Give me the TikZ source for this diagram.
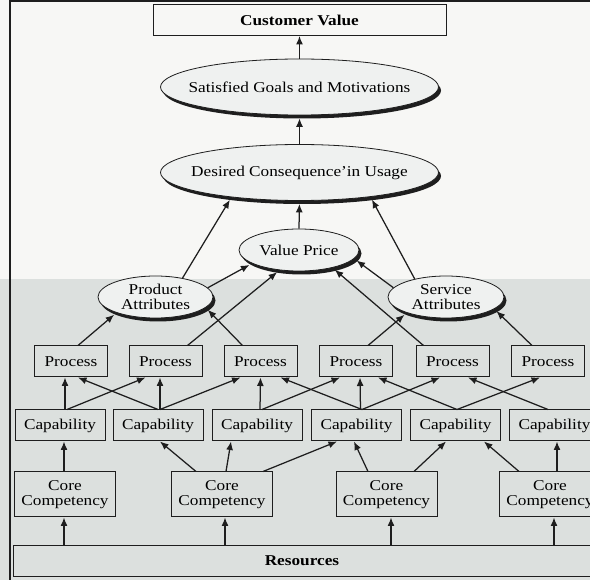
\documentclass[tikz,border=0pt]{standalone}
\usepackage{fontspec}
\setmainfont{Liberation Serif}[FakeStretch=1.15]
\usetikzlibrary{shapes.geometric,shadows,arrows.meta}
\definecolor{topbg}{RGB}{247,247,245}
\definecolor{lowbg}{RGB}{220,224,222}
\definecolor{ovalfill}{RGB}{239,241,240}
\definecolor{ink}{RGB}{30,30,30}
\tikzset{
	box/.style={draw=ink,line width=1pt,inner sep=0pt,minimum height=31pt},
	procbox/.style={box,minimum width=73pt},
	capbox/.style={box,minimum width=90pt},
	corebox/.style={box,minimum width=101pt,minimum height=45pt,align=center},
	oval/.style={ellipse,draw=ink,line width=0.8pt,fill=ovalfill,inner sep=0pt,inner xsep=-20pt,align=center,
		drop shadow={shadow xshift=2.5pt,shadow yshift=-3.5pt,opacity=1,fill=ink}},
	link/.style={-{Latex[length=8.5pt,width=7pt]},line width=1.25pt,draw=ink},
	undershadow/.style={shorten >=3pt}
}
\begin{document}
\begin{tikzpicture}[x=1pt,y=-1pt,font=\fontsize{15}{15.5}\selectfont]
	\clip (0,0) rectangle (590,580);
	\fill [topbg] (0,0) rectangle (590,279);
	\fill [lowbg] (0,279) rectangle (590,580);
	\draw [ink,line width=1.2pt] (590,1)--(10,1)--(10,580);
	\node [box,minimum width=293pt,font=\fontsize{15}{15.5}\selectfont\bfseries] (cv) at (299.5,20) {Customer Value};
	\node [oval,minimum width=278pt,minimum height=56pt] (goals) at (299.5,87) {Satisfied Goals and Motivations};
	\node [oval,minimum width=278pt,minimum height=56pt] (usage) at (299.5,172.5) {Desired Consequence'in Usage};
	\node [oval,minimum width=120pt,minimum height=42pt] (price) at (299,250) {Value Price};
	\node [oval,minimum width=115pt,minimum height=42pt] (product) at (155.5,297) {Product\\Attributes};
	\node [oval,minimum width=116pt,minimum height=42pt] (service) at (446,297) {Service\\Attributes};
	\node [procbox] (proc1) at (71,361.5) {Process};
	\node [procbox] (proc2) at (165.5,361.5) {Process};
	\node [procbox] (proc3) at (260.5,361.5) {Process};
	\node [procbox] (proc4) at (356,361.5) {Process};
	\node [procbox] (proc5) at (452.5,361.5) {Process};
	\node [procbox] (proc6) at (548,361.5) {Process};
	\node [capbox] (cap1) at (60,425.5) {Capability};
	\node [capbox] (cap2) at (158,425.5) {Capability};
	\node [capbox] (cap3) at (257,425.5) {Capability};
	\node [capbox] (cap4) at (356.5,425.5) {Capability};
	\node [capbox] (cap5) at (455.5,425.5) {Capability};
	\node [capbox] (cap6) at (554.5,425.5) {Capability};
	\node [corebox] (core1) at (65,494.5) {Core\\Competency};
	\node [corebox] (core2) at (222,494.5) {Core\\Competency};
	\node [corebox] (core3) at (386.5,494.5) {Core\\Competency};
	\node [corebox] (core4) at (550,494.5) {Core\\Competency};
	\node [box,minimum width=578pt,font=\fontsize{15}{15.5}\selectfont\bfseries] (res) at (302,561) {Resources};
	\draw [link] (goals.north) -- (cv.south);
	\draw [link,undershadow] (usage.north) -- (goals.south);
	\draw [link,undershadow] (price.north) -- (usage.south);
	\draw [link,undershadow] (product.35) -- (usage.200);
	\draw [link,undershadow] (service.150) -- (usage.341);
	\draw [link,undershadow] (product.10) -- (price.196);
	\draw [link,undershadow] ([xshift=22pt]proc2.north) -- (price.226);
	\draw [link,undershadow] ([xshift=-29pt]proc5.north) -- (price.332);
	\draw [link,undershadow] (service.170) -- (price.351);
	\draw [link,undershadow] ([xshift=7pt]proc1.north) -- (product.202);
	\draw [link,undershadow] ([xshift=-18pt]proc3.north) -- (product.348);
	\draw [link,undershadow] ([xshift=12pt]proc4.north) -- (service.202);
	\draw [link,undershadow] ([xshift=-16pt]proc6.north) -- (service.346);
	\draw [link] ([xshift=5pt]cap1.north) -- ([xshift=-6pt]proc1.south);
	\draw [link] ([xshift=7pt]cap1.north) -- ([xshift=-20pt]proc2.south);
	\draw [link] (cap2.north) -- ([xshift=7pt]proc1.south);
	\draw [link] ([xshift=2pt]cap2.north) -- ([xshift=-5.5pt]proc2.south);
	\draw [link] ([xshift=2pt]cap2.north) -- ([xshift=-20pt]proc3.south);
	\draw [link] ([xshift=3pt]cap3.north) -- (proc3.south);
	\draw [link] ([xshift=5pt]cap3.north) -- ([xshift=-16pt]proc4.south);
	\draw [link] ([xshift=5.5pt]cap4.north) -- ([xshift=20pt]proc3.south);
	\draw [link] ([xshift=4pt]cap4.north) -- ([xshift=4pt]proc4.south);
	\draw [link] ([xshift=5.5pt]cap4.north) -- ([xshift=-12.5pt]proc5.south);
	\draw [link] ([xshift=1.5pt]cap5.north) -- ([xshift=22pt]proc4.south);
	\draw [link] ([xshift=1.5pt]cap5.north) -- ([xshift=-8pt]proc6.south);
	\draw [link] ([xshift=-6.5pt]cap6.north) -- ([xshift=15.5pt]proc5.south);
	\draw [link] ([xshift=-1pt]core1.north) -- ([xshift=4pt]cap1.south);
	\draw [link] ([xshift=-26pt]core2.north) -- ([xshift=2pt]cap2.south);
	\draw [link] ([xshift=4pt]core2.north) -- ([xshift=-26pt]cap3.south);
	\draw [link] ([xshift=41pt]core2.north) -- ([xshift=-19.5pt]cap4.south);
	\draw [link] ([xshift=-18.5pt]core3.north) -- ([xshift=-2.5pt]cap4.south);
	\draw [link] ([xshift=27.5pt]core3.north) -- ([xshift=-9.5pt]cap5.south);
	\draw [link] ([xshift=-31pt]core4.north) -- ([xshift=28.5pt]cap5.south);
	\draw [link] ([xshift=7pt]core4.north) -- ([xshift=2.5pt]cap6.south);
	\draw [link] ([xshift=-1pt]core1.south |- res.north) -- ([xshift=-1pt]core1.south);
	\draw [link] ([xshift=3pt]core2.south |- res.north) -- ([xshift=3pt]core2.south);
	\draw [link] ([xshift=4.5pt]core3.south |- res.north) -- ([xshift=4.5pt]core3.south);
	\draw [link] ([xshift=4pt]core4.south |- res.north) -- ([xshift=4pt]core4.south);
\end{tikzpicture}
\end{document}
